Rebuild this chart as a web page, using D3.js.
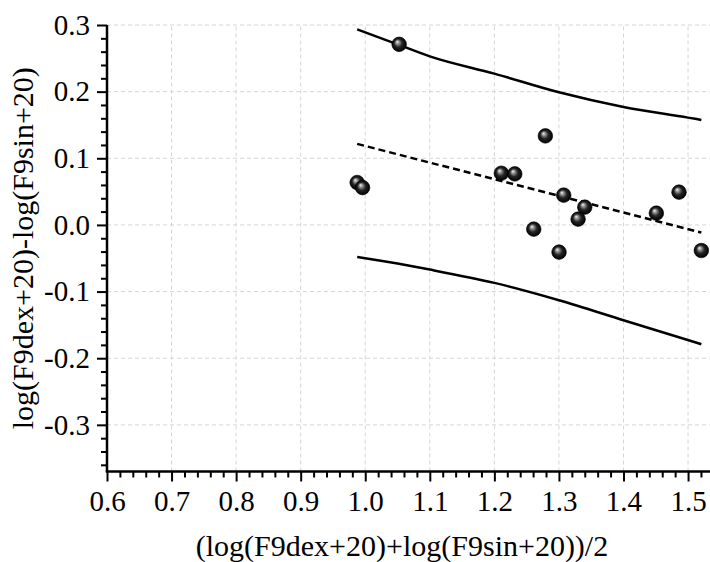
<!DOCTYPE html>
<html lang="en">
<head>
<meta charset="UTF-8">
<title>Bland-Altman plot</title>
<script src="https://cdn.jsdelivr.net/npm/d3@7"></script>
<style>
    body { margin: 0; background: #fff; }
    svg { display: block; }
    text { font-family: "Liberation Serif", "Times New Roman", serif; fill: #000; }
</style>
</head>
<body>
<div id="chart"></div>
<script>
// mean of the two logs (x) and their difference (y), one per sample
const meanX = [0.9875, 0.9958, 1.0525, 1.2108, 1.2316, 1.2790, 1.3074, 1.3400,
               1.3297, 1.2610, 1.3002, 1.4509, 1.4860, 1.5206];
const diffY = [0.0636, 0.0560, 0.2710, 0.0776, 0.0766, 0.1336, 0.0447, 0.0267,
               0.0087, -0.0063, -0.0408, 0.0177, 0.0492, -0.0384];

// regression of difference on mean (dashed)
const fitX = [0.9875, 1.5206];
const fitY = [0.1216, -0.0114];

// upper / lower limits (solid curves)
const upperX = [0.9875, 1.05, 1.1, 1.2, 1.3, 1.4, 1.5, 1.5206];
const upperY = [0.2935, 0.271, 0.253, 0.227, 0.199, 0.177, 0.161, 0.1576];
const lowerX = [0.9875, 1.05, 1.1, 1.2, 1.3, 1.4, 1.5206];
const lowerY = [-0.048, -0.058, -0.067, -0.087, -0.113, -0.143, -0.179];

const xTicks = [0.6, 0.7, 0.8, 0.9, 1.0, 1.1, 1.2, 1.3, 1.4, 1.5];
const yTicks = [-0.3, -0.2, -0.1, 0.0, 0.1, 0.2, 0.3];

const xTitle = "(log(F9dex+20)+log(F9sin+20))/2";
const yTitle = "log(F9dex+20)-log(F9sin+20)";

const serif = '"Liberation Serif", "Times New Roman", serif';
const width = 710, height = 562;
const margin = {top: 25, right: 0, bottom: 90.5, left: 107};

const x = d3.scaleLinear().domain([0.6, 1.534]).range([margin.left, width - margin.right]);
const y = d3.scaleLinear().domain([-0.37, 0.3]).range([height - margin.bottom, margin.top]);

// minor ticks every 0.02
const xMinor = d3.range(30, 77).filter(i => i % 5 !== 0).map(i => i / 50);
const yMinor = d3.range(-18, 15).filter(i => i % 5 !== 0).map(i => i / 50);

const svg = d3.select("#chart").append("svg")
    .attr("width", width)
    .attr("height", height);

const grad = svg.append("defs").append("radialGradient")
    .attr("id", "ball")
    .attr("cx", "50%").attr("cy", "50%").attr("r", "50%")
    .attr("fx", "36%").attr("fy", "32%");
grad.append("stop").attr("offset", "0%").attr("stop-color", "#f4f4f4");
grad.append("stop").attr("offset", "22%").attr("stop-color", "#9a9a9a");
grad.append("stop").attr("offset", "55%").attr("stop-color", "#262626");
grad.append("stop").attr("offset", "100%").attr("stop-color", "#000");

// grid
const grid = svg.append("g")
    .attr("stroke", "#d6d6d6")
    .attr("stroke-width", 1)
    .attr("stroke-dasharray", "4,3");
grid.selectAll(".vg").data(xTicks.slice(1)).join("line")
    .attr("x1", d => x(d)).attr("x2", d => x(d))
    .attr("y1", y(-0.37)).attr("y2", y(0.3));
grid.selectAll(".hg").data(yTicks).join("line")
    .attr("x1", x(0.6)).attr("x2", width)
    .attr("y1", d => y(d)).attr("y2", d => y(d));

// lines
const line = d3.line().x(d => x(d[0])).y(d => y(d[1]));
const curve = d3.line().curve(d3.curveMonotoneX).x(d => x(d[0])).y(d => y(d[1]));
const lines = svg.append("g").attr("fill", "none").attr("stroke", "#000").attr("stroke-width", 2.5);
lines.append("path").attr("d", curve(d3.zip(upperX, upperY)));
lines.append("path").attr("d", curve(d3.zip(lowerX, lowerY)));
lines.append("path").attr("d", line(d3.zip(fitX, fitY))).attr("stroke-dasharray", "7,4");

// points
svg.append("g").selectAll("circle").data(d3.zip(meanX, diffY)).join("circle")
    .attr("cx", d => x(d[0]))
    .attr("cy", d => y(d[1]))
    .attr("r", 7.3)
    .attr("fill", "url(#ball)")
    .attr("stroke", "#000")
    .attr("stroke-width", 0.6);

const fmt = d => d.toFixed(1);

// x axis
const xMinorAxis = svg.append("g")
    .attr("transform", `translate(0,${y(-0.37)})`)
    .call(d3.axisBottom(x).tickValues(xMinor).tickSize(6).tickFormat(""));
const xAxis = svg.append("g")
    .attr("transform", `translate(0,${y(-0.37)})`)
    .call(d3.axisBottom(x).tickValues(xTicks).tickSize(10).tickPadding(9).tickFormat(fmt));

// y axis
const yMinorAxis = svg.append("g")
    .attr("transform", `translate(${x(0.6)},0)`)
    .call(d3.axisLeft(y).tickValues(yMinor).tickSize(6).tickFormat(""));
const yAxis = svg.append("g")
    .attr("transform", `translate(${x(0.6)},0)`)
    .call(d3.axisLeft(y).tickValues(yTicks).tickSize(10).tickPadding(7).tickFormat(fmt));

for (const g of [xMinorAxis, xAxis, yMinorAxis, yAxis]) {
    g.attr("font-family", serif).attr("font-size", 29);
    g.select(".domain").remove();
    g.selectAll(".tick line").attr("stroke", "#000").attr("stroke-width", 2);
}

// axis lines drawn on top
svg.append("line")
    .attr("x1", x(0.6) - 1.25).attr("x2", width)
    .attr("y1", y(-0.37)).attr("y2", y(-0.37))
    .attr("stroke", "#000").attr("stroke-width", 2.5);
svg.append("line")
    .attr("x1", x(0.6)).attr("x2", x(0.6))
    .attr("y1", y(0.3)).attr("y2", y(-0.37))
    .attr("stroke", "#000").attr("stroke-width", 2.5);

// titles
svg.append("text")
    .attr("x", 402).attr("y", 556)
    .attr("text-anchor", "middle")
    .attr("font-size", 30)
    .text(xTitle);
svg.append("text")
    .attr("transform", `translate(33,${(y(0.3) + y(-0.37)) / 2}) rotate(-90)`)
    .attr("text-anchor", "middle")
    .attr("font-size", 30)
    .text(yTitle);
</script>
</body>
</html>
